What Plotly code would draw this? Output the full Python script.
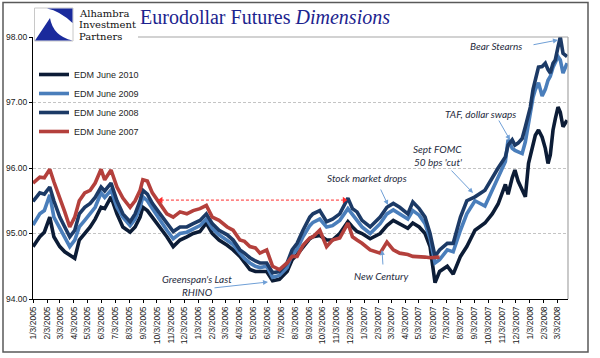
import plotly.graph_objects as go
import pandas as pd

# ---------------- data ----------------
DATES = [
    "2005-01-03", "2005-01-18", "2005-01-28", "2005-02-09", "2005-02-18", "2005-03-03",
    "2005-03-14", "2005-03-25", "2005-04-05", "2005-04-15", "2005-04-27", "2005-05-09",
    "2005-05-20", "2005-06-02", "2005-06-10", "2005-06-24", "2005-07-07", "2005-07-20",
    "2005-08-05", "2005-08-16", "2005-08-27", "2005-09-02", "2005-09-12", "2005-09-23",
    "2005-10-10", "2005-10-25", "2005-11-08", "2005-11-23", "2005-12-08", "2005-12-22",
    "2006-01-06", "2006-01-20", "2006-02-02", "2006-02-17", "2006-03-07", "2006-03-20",
    "2006-04-04", "2006-04-14", "2006-04-26", "2006-05-08", "2006-05-18", "2006-06-02",
    "2006-06-15", "2006-06-30", "2006-07-17", "2006-07-28", "2006-08-08", "2006-08-21",
    "2006-09-05", "2006-09-12", "2006-09-27", "2006-10-12", "2006-10-25", "2006-11-10",
    "2006-11-28", "2006-12-08", "2006-12-18", "2006-12-29", "2007-01-16", "2007-02-07",
    "2007-02-22", "2007-03-08", "2007-03-22", "2007-04-09", "2007-04-20", "2007-05-04",
    "2007-05-17", "2007-05-28", "2007-06-08", "2007-06-18", "2007-07-05", "2007-07-18",
    "2007-08-03", "2007-08-17", "2007-09-04", "2007-09-26", "2007-10-12", "2007-10-25",
    "2007-11-10", "2007-11-16", "2007-11-25", "2007-12-01", "2007-12-08", "2007-12-17",
    "2007-12-24", "2007-12-31", "2008-01-04", "2008-01-10", "2008-01-15", "2008-01-22",
    "2008-01-30", "2008-02-06", "2008-02-12", "2008-02-17", "2008-02-23", "2008-02-28",
    "2008-03-05", "2008-03-10", "2008-03-16", "2008-03-25",
]

EDM_2007 = [
    95.77, 95.86, 95.85, 95.98, 95.79, 95.56, 95.33, 95.10, 95.25, 95.50, 95.62, 95.66,
    95.77, 95.98, 95.82, 95.97, 95.71, 95.54, 95.40, 95.50, 95.66, 95.82, 95.80, 95.62,
    95.46, 95.30, 95.25, 95.33, 95.30, 95.35, 95.38, 95.43, 95.25, 95.20, 95.10, 95.05,
    94.90, 94.88, 94.80, 94.78, 94.70, 94.75, 94.50, 94.45, 94.55, 94.65, 94.65, 94.82,
    94.93, 94.95, 95.05, 94.80, 94.90, 94.93, 95.16, 94.95, 94.90, 94.85, 94.75, 94.70,
    94.87, 94.75, 94.70, 94.68, 94.65, 94.65, 94.64, 94.63, 94.63, 94.64,
]

EDM_2008 = [
    95.49, 95.62, 95.60, 95.71, 95.50, 95.25, 95.10, 94.95, 95.05, 95.30, 95.40, 95.46,
    95.55, 95.71, 95.65, 95.77, 95.50, 95.30, 95.18, 95.30, 95.50, 95.66, 95.60, 95.46,
    95.30, 95.16, 95.03, 95.10, 95.10, 95.15, 95.20, 95.30, 95.15, 95.05, 94.98, 94.90,
    94.75, 94.70, 94.63, 94.58, 94.55, 94.55, 94.40, 94.42, 94.55, 94.75, 94.85, 95.05,
    95.25, 95.30, 95.35, 95.18, 95.22, 95.30, 95.54, 95.38, 95.33, 95.20, 95.10, 95.25,
    95.40, 95.46, 95.40, 95.30, 95.48, 95.38, 95.25, 95.00, 94.65, 94.75, 94.85, 94.85,
    95.25, 95.50, 95.56, 95.66, 95.86, 96.00, 96.17, 96.35, 96.43, 96.35, 96.38, 96.45,
    96.63, 96.80, 96.93, 97.20, 97.34, 97.54, 97.55, 97.60, 97.50, 97.45, 97.60, 97.65,
    97.85, 98.00, 97.75, 97.70,
]

EDM_2009 = [
    95.13, 95.30, 95.35, 95.59, 95.25, 95.08, 94.95, 94.80, 94.90, 95.10, 95.20, 95.30,
    95.40, 95.62, 95.55, 95.66, 95.40, 95.25, 95.12, 95.22, 95.40, 95.56, 95.50, 95.38,
    95.20, 95.05, 94.92, 95.00, 95.02, 95.07, 95.12, 95.22, 95.08, 94.98, 94.90, 94.83,
    94.70, 94.62, 94.55, 94.50, 94.48, 94.50, 94.33, 94.36, 94.48, 94.68, 94.76, 94.95,
    95.12, 95.17, 95.22, 95.10, 95.12, 95.20, 95.38, 95.28, 95.20, 95.10, 95.00, 95.15,
    95.30, 95.36, 95.30, 95.22, 95.35, 95.28, 95.15, 94.92, 94.55, 94.60, 94.75, 94.72,
    95.05, 95.30, 95.50, 95.42, 95.66, 95.85, 96.10, 96.43, 96.30, 96.27, 96.25, 96.22,
    96.40, 96.68, 96.85, 97.08, 97.20, 97.30, 97.10, 97.20, 97.34, 97.40, 97.54, 97.60,
    97.70, 97.65, 97.45, 97.60,
]

EDM_2010 = [
    94.80, 94.95, 95.02, 95.25, 94.95, 94.80, 94.72, 94.67, 94.62, 94.90, 95.00, 95.10,
    95.22, 95.40, 95.38, 95.56, 95.30, 95.10, 95.02, 95.10, 95.25, 95.40, 95.35, 95.25,
    95.10, 94.95, 94.80, 94.90, 94.95, 95.00, 95.03, 95.16, 95.00, 94.90, 94.82, 94.75,
    94.65, 94.55, 94.45, 94.42, 94.42, 94.42, 94.28, 94.30, 94.42, 94.60, 94.68, 94.80,
    94.92, 94.95, 94.97, 94.90, 94.90, 95.00, 95.18, 95.10, 95.03, 95.00, 94.92, 95.00,
    95.12, 95.20, 95.15, 95.08, 95.16, 95.10, 95.00, 94.80, 94.25, 94.42, 94.50, 94.38,
    94.65, 94.80, 95.05, 95.16, 95.30, 95.45, 95.75, 95.60, 95.85, 95.97, 95.80, 95.66,
    95.56, 96.07, 96.20, 96.40, 96.50, 96.58, 96.47, 96.30, 96.07, 96.20, 96.58, 96.75,
    96.93, 96.85, 96.63, 96.73,
]

SERIES_NAMES = ["EDM June 2010", "EDM June 2009", "EDM June 2008", "EDM June 2007"]
SERIES_VALUES = [EDM_2010, EDM_2009, EDM_2008, EDM_2007]
SERIES_COLORS = ["#0c1c36", "#4a7ebb", "#1c3a66", "#b4403c"]

TICK_LABELS = [
    "1/3/2005", "2/3/2005", "3/3/2005", "4/3/2005", "5/3/2005", "6/3/2005", "7/3/2005",
    "8/3/2005", "9/3/2005", "10/3/2005", "11/3/2005", "12/3/2005",
    "1/3/2006", "2/3/2006", "3/3/2006", "4/3/2006", "5/3/2006", "6/3/2006", "7/3/2006",
    "8/3/2006", "9/3/2006", "10/3/2006", "11/3/2006", "12/3/2006",
    "1/3/2007", "2/3/2007", "3/3/2007", "4/3/2007", "5/3/2007", "6/3/2007", "7/3/2007",
    "8/3/2007", "9/3/2007", "10/3/2007", "11/3/2007", "12/3/2007",
    "1/3/2008", "2/3/2008", "3/3/2008",
]
Y_TICKS = [94, 95, 96, 97, 98]
X_RANGE = ["2005-01-03", "2008-03-27"]

# red dashed "then vs now" arrow (date span, level)
SPAN_DATES = ["2005-10-12", "2006-11-20"]
SPAN_LEVEL = 95.51

# ---------------- layout helpers ----------------
W, H = 600, 358
L, R, T, B = 33, 568, 37, 299


def px(x):
    return (x - L) / (R - L)


def py(y):
    return (B - y) / (B - T)


fig = go.Figure()

dates = pd.to_datetime(DATES)
for name, vals, col in zip(SERIES_NAMES, SERIES_VALUES, SERIES_COLORS):
    fig.add_trace(go.Scatter(
        x=dates[:len(vals)], y=vals, name=name, mode="lines",
        line=dict(color=col, width=3.6), hoverinfo="x+y+name",
    ))

# red dashed double arrow
fig.add_trace(go.Scatter(
    x=pd.to_datetime(SPAN_DATES), y=[SPAN_LEVEL, SPAN_LEVEL], mode="lines+markers",
    line=dict(color="#ff2a2a", width=1, dash="3px,2px"),
    marker=dict(symbol=["triangle-left", "triangle-right"], size=6, color="#ff2a2a"),
    showlegend=False, hoverinfo="skip",
))

tickvals = pd.to_datetime(TICK_LABELS, format="%m/%d/%Y")

font_axis = dict(family="Liberation Sans, Arial, sans-serif", size=8.5, color="#1a1a1a")

fig.update_layout(
    width=W, height=H,
    margin=dict(l=L, r=W - R, t=T, b=H - B, pad=0, autoexpand=False),
    paper_bgcolor="white", plot_bgcolor="white",
    showlegend=True,
    legend=dict(
        x=px(34), y=py(60), xanchor="left", yanchor="top",
        font=dict(family="Liberation Sans, Arial, sans-serif", size=9, color="#262626"),
        bgcolor="rgba(0,0,0,0)", itemwidth=30, tracegroupgap=0,
    ),
    xaxis=dict(
        type="date", range=X_RANGE, tickvals=tickvals, ticktext=TICK_LABELS,
        tickangle=-90, tickfont=font_axis, showgrid=False, zeroline=False,
        showline=True, linecolor="#000000", linewidth=1, automargin=False,
        ticks="outside", ticklen=3, tickcolor="#000000",
    ),
    yaxis=dict(
        range=[94, 98], tickvals=Y_TICKS, tickformat=".2f", tickfont=font_axis,
        showgrid=True, gridcolor="#c4c4c4", griddash="3px,2px", gridwidth=1,
        zeroline=False, showline=True, linecolor="#000000", linewidth=1, automargin=False,
        ticks="outside", ticklen=3, tickcolor="#000000",
    ),
)

shapes = []
# outer frame
shapes.append(dict(type="rect", xref="paper", yref="paper",
                   x0=px(3), x1=px(588), y0=py(2.5), y1=py(352),
                   line=dict(color="#595959", width=1.5), fillcolor="rgba(0,0,0,0)", layer="above"))
# white cover for the logo area (hides top gridline there)
shapes.append(dict(type="rect", xref="paper", yref="paper",
                   x0=px(34), x1=px(138), y0=py(44), y1=py(5),
                   line=dict(width=0), fillcolor="white", layer="above"))
# top border under the title and right border of the plot area
shapes.append(dict(type="line", xref="paper", yref="paper",
                   x0=px(138), x1=px(568), y0=py(37), y1=py(37),
                   line=dict(color="#a6a6a6", width=1.2), layer="above"))
shapes.append(dict(type="line", xref="paper", yref="paper",
                   x0=px(568), x1=px(568), y0=py(37), y1=py(299),
                   line=dict(color="#a6a6a6", width=1.2), layer="above"))
# logo box
shapes.append(dict(type="rect", xref="paper", yref="paper",
                   x0=px(34.5), x1=px(73), y0=py(41), y1=py(8),
                   line=dict(color="#c8c8c8", width=1), fillcolor="white", layer="above"))
logo_blue = "#1a2a9c"
shapes.append(dict(type="path", xref="paper", yref="paper", layer="above",
                   path="M {:.5f},{:.5f} L {:.5f},{:.5f} L {:.5f},{:.5f} Q {:.5f},{:.5f} {:.5f},{:.5f} Z".format(
                       px(47), py(8.5), px(72.5), py(8.5), px(72.5), py(23), px(60), py(11), px(47), py(8.5)),
                   fillcolor=logo_blue, line=dict(width=0)))
shapes.append(dict(type="path", xref="paper", yref="paper", layer="above",
                   path="M {:.5f},{:.5f} L {:.5f},{:.5f} Q {:.5f},{:.5f} {:.5f},{:.5f} Z".format(
                       px(35), py(40.5), px(50), py(18), px(53), py(36), px(72.5), py(40.5)),
                   fillcolor=logo_blue, line=dict(width=0)))
fig.update_layout(shapes=shapes)

ann = []
serif = "Liberation Serif, Times New Roman, serif"
for txt, yy in [("Alhambra", 13.3), ("Investment", 25), ("Partners", 36.7)]:
    ann.append(dict(xref="paper", yref="paper", x=px(76.5), y=py(yy), xanchor="left", yanchor="middle",
                    text=txt, showarrow=False,
                    font=dict(family="DejaVu Serif, serif", size=10, color="#111111")))
ann.append(dict(xref="paper", yref="paper", x=px(138), y=py(17), xanchor="left", yanchor="middle",
                text="Eurodollar Futures <i>Dimensions</i>", showarrow=False,
                font=dict(family=serif, size=20, color="#1c238e")))

note_font = dict(family="Lato, Open Sans, sans-serif", size=10, color="#262b3e")
notes = [
    ("<i>Bear Stearns</i>", 496, 46),
    ("<i>TAF, dollar swaps</i>", 480, 114),
    ("<i>Sept FOMC</i>", 437, 149),
    ("<i>50 bps 'cut'</i>", 438, 162),
    ("<i>Stock market drops</i>", 367, 178),
    ("<i>Greenspan's Last</i>", 197, 279),
    ("<i>RHINO</i>", 197, 292),
    ("<i>New Century</i>", 381, 276),
]
for txt, xx, yy in notes:
    ann.append(dict(xref="paper", yref="paper", x=px(xx), y=py(yy), xanchor="center", yanchor="middle",
                    text=txt, showarrow=False, font=note_font))

arrows = [  # (tail x, tail y, head x, head y) in pixels
    (532, 45, 558, 40),
    (498, 119, 510, 140),
    (450, 169, 473, 193),
    (380, 188, 388, 205),
    (213, 288, 268, 282),
    (383, 266, 382, 250),
]
for tx, ty, hx, hy in arrows:
    ann.append(dict(xref="paper", yref="paper", x=px(hx), y=py(hy), ax=tx - hx, ay=ty - hy,
                    text="", showarrow=True, arrowhead=2, arrowsize=1, arrowwidth=1,
                    arrowcolor="#6f9fd6", standoff=0))
fig.update_layout(annotations=ann)

fig.write_html("out.html", config={"displayModeBar": False},
               post_script="document.body.style.margin='0';document.body.style.overflow='hidden';")
